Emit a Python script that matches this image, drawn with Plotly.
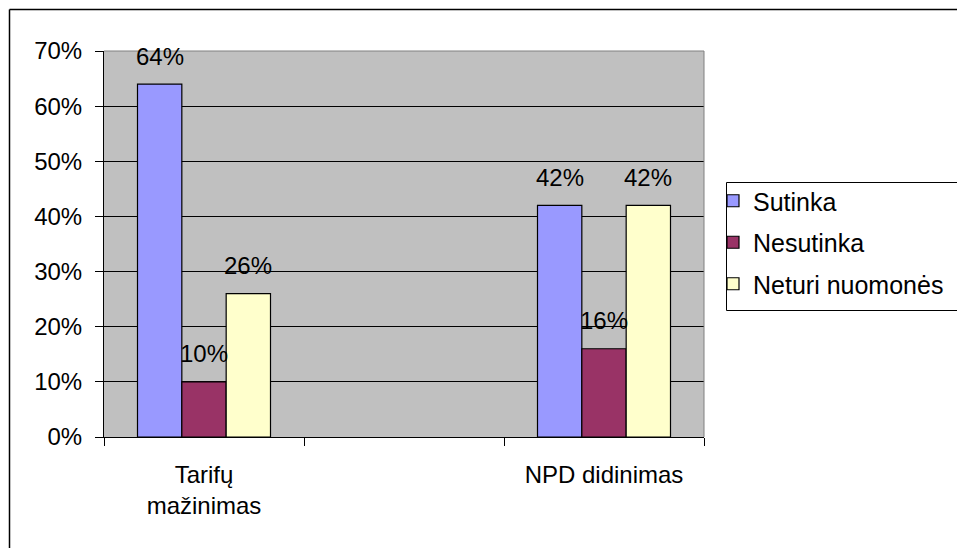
import plotly.graph_objects as go

categories = ["Tarifų<br>mažinimas", " ", "NPD didinimas"]
series_names = ["Sutinka", "Nesutinka", "Neturi nuomonės"]
sutinka = [0.64, None, 0.42]
nesutinka = [0.10, None, 0.16]
neturi = [0.26, None, 0.42]
series_values = [sutinka, nesutinka, neturi]
colors = ["#9999FF", "#993366", "#FFFFCC"]
y_ticks = [0, 0.1, 0.2, 0.3, 0.4, 0.5, 0.6, 0.7]

W, H = 957, 548
L, R, T, B = 104, 704, 51, 437
FONT = "Liberation Sans, Arial, sans-serif"
BARGAP = 0.335

fig = go.Figure()
for name, vals, col in zip(series_names, series_values, colors):
    fig.add_trace(go.Bar(
        x=categories, y=vals, name=name, legendgroup=name,
        marker=dict(color=col, line=dict(color="black", width=1.2)),
        cliponaxis=False,
    ))

# data labels as annotations above each bar
cat_px = (R - L) / len(categories)
bar_px = cat_px * (1 - BARGAP) / len(series_names)
annotations = []
for i, vals in enumerate(series_values):
    off = (i - (len(series_names) - 1) / 2) * bar_px
    for c, v in zip(categories, vals):
        if v is None:
            continue
        annotations.append(dict(
            x=c, y=v, xref="x", yref="y", text=f"{round(v*100)}%",
            showarrow=False, xanchor="center", yanchor="middle",
            xshift=off, yshift=28,
            font=dict(size=24, family=FONT, color="black"),
        ))

def px_x(p):
    return (p - L) / (R - L)

def px_y(p):
    return (B - p) / (B - T)

shapes = [
    dict(type="line", xref="paper", yref="paper", x0=0, x1=1, y0=1, y1=1,
         line=dict(color="#808080", width=1), layer="above"),
    dict(type="line", xref="paper", yref="paper", x0=1, x1=1, y0=0, y1=1,
         line=dict(color="#808080", width=1), layer="above"),
    dict(type="line", xref="paper", yref="paper", x0=px_x(9.5), x1=px_x(W + 5),
         y0=px_y(9.5), y1=px_y(9.5), line=dict(color="black", width=1.5)),
    dict(type="line", xref="paper", yref="paper", x0=px_x(9.5), x1=px_x(9.5),
         y0=px_y(9.5), y1=px_y(H + 5), line=dict(color="black", width=1.5)),
    # legend frame
    dict(type="rect", xref="paper", yref="paper", x0=px_x(726.5), x1=px_x(W + 5),
         y0=px_y(182.5), y1=px_y(310.5), fillcolor="white",
         line=dict(color="black", width=1)),
]

fig.update_layout(
    width=W, height=H,
    margin=dict(l=L, r=W - R, t=T, b=H - B, pad=0, autoexpand=False),
    paper_bgcolor="white",
    plot_bgcolor="#C0C0C0",
    font=dict(family=FONT, size=24, color="black"),
    barmode="group",
    bargap=BARGAP,
    bargroupgap=0,
    showlegend=True,
    legend=dict(
        x=px_x(713), y=px_y(178), xanchor="left", yanchor="top",
        bgcolor="rgba(0,0,0,0)", borderwidth=0,
        font=dict(size=25, family=FONT, color="black"),
        itemwidth=30,
        tracegroupgap=6,
    ),
    shapes=shapes,
    annotations=annotations,
)

fig.update_xaxes(
    type="category",
    showgrid=False,
    showline=True, linecolor="black", linewidth=1,
    ticks="outside", ticklen=8, tickcolor="black", tickwidth=1,
    tickson="boundaries",
    tickfont=dict(size=24, family=FONT, color="black"),
    ticklabelstandoff=16,
)
fig.update_yaxes(
    range=[0, 0.7],
    tickvals=y_ticks,
    tickformat=".0%",
    showgrid=True, gridcolor="black", gridwidth=1,
    showline=True, linecolor="black", linewidth=1,
    ticks="outside", ticklen=8, tickcolor="black", tickwidth=1,
    tickfont=dict(size=24, family=FONT, color="black"),
    ticklabelstandoff=8,
    zeroline=False,
)

fig.write_html("out.html")
